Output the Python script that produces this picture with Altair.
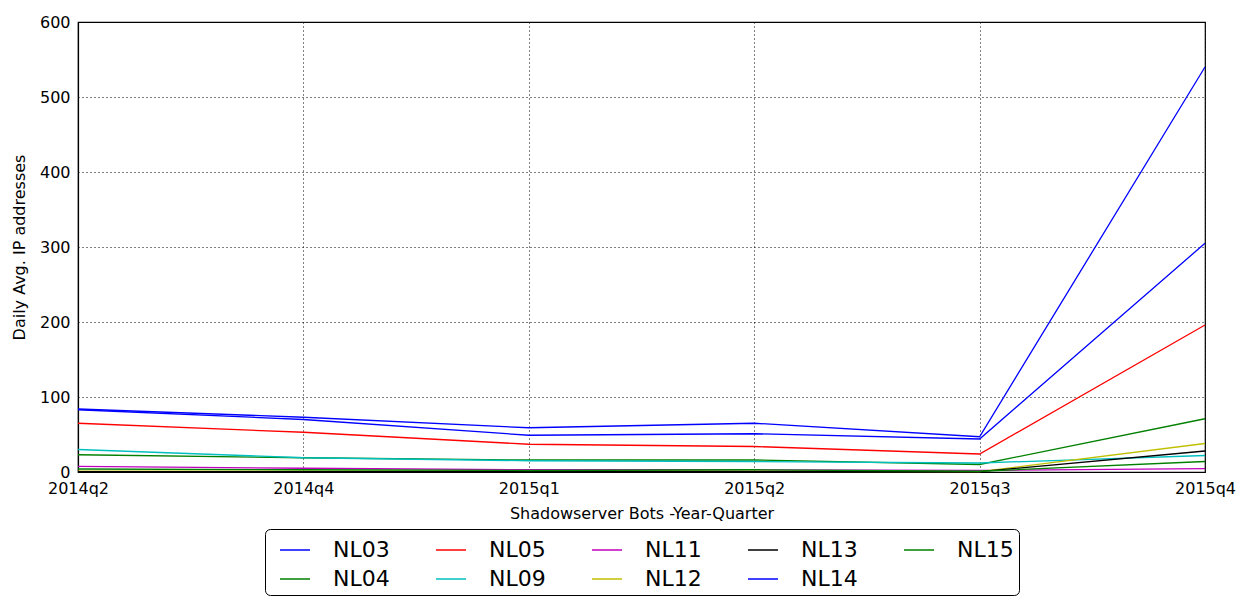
import altair as alt
import pandas as pd

quarters = ["2014q2", "2014q4", "2015q1", "2015q2", "2015q3", "2015q4"]

series_names = ["NL03", "NL04", "NL05", "NL09", "NL11", "NL12", "NL13", "NL14", "NL15"]
series_colors = ["#0000ff", "#008000", "#ff0000", "#00bfbf", "#bf00bf",
                 "#bfbf00", "#000000", "#0000ff", "#008000"]
NL03 = [84, 73, 59, 65, 47, 540]
NL04 = [23, 19, 16, 16, 10, 71]
NL05 = [65, 53, 37, 34, 24, 196]
NL09 = [30, 19, 15, 14, 12, 22]
NL11 = [7.5, 5, 3, 3, 2, 4.5]
NL12 = [1, 1, 1, 1, 0.5, 38]
NL13 = [0.5, 0.5, 0.5, 0.5, 0.5, 28]
NL14 = [83, 70, 49, 51, 44, 305]
NL15 = [4, 3, 2, 3, 1, 14]
values = [NL03, NL04, NL05, NL09, NL11, NL12, NL13, NL14, NL15]

rows = []
for name, vals in zip(series_names, values):
    for q, v in zip(quarters, vals):
        rows.append({"quarter": q, "series": name, "value": v})
df = pd.DataFrame(rows)

FONT = "DejaVu Sans"

chart = alt.Chart(df).mark_line(strokeWidth=1.3).encode(
    x=alt.X("quarter:O", sort=quarters,
            scale=alt.Scale(type="point", padding=0),
            axis=alt.Axis(title="Shadowserver Bots -Year-Quarter", labelAngle=0,
                          labelFlush=False, labelOverlap=False, ticks=False,
                          labelPadding=8, titlePadding=9)),
    y=alt.Y("value:Q", scale=alt.Scale(domain=[0, 600], nice=False),
            axis=alt.Axis(title="Daily Avg. IP addresses", values=[0, 100, 200, 300, 400, 500, 600],
                          ticks=False, labelPadding=8, titlePadding=12)),
    color=alt.Color("series:N",
                    scale=alt.Scale(domain=series_names, range=series_colors),
                    legend=alt.Legend(title=None, orient="none", legendX=187, legendY=507,
                                      columns=5, symbolType="stroke", symbolSize=900,
                                      symbolOffset=9,
                                      symbolStrokeWidth=1.5, labelFontSize=22, labelFont=FONT,
                                      labelColor="black",
                                      labelOffset=22, columnPadding=36, rowPadding=2,
                                      padding=5, strokeColor="black", cornerRadius=5,
                                      fillColor="white")),
    detail="series:N",
).properties(
    width=1127, height=450,
    autosize=alt.AutoSizeParams(type="none"),
    padding={"left": 70, "top": 14, "right": 39, "bottom": 125},
).configure_view(
    stroke="black", strokeWidth=1.2
).configure_axis(
    labelFont=FONT, titleFont=FONT, labelFontSize=16, titleFontSize=16,
    titleFontWeight="normal", labelColor="black", titleColor="black",
    domainColor="black", domainWidth=1.2,
    grid=True, gridColor="black", gridDash=[1, 3], gridWidth=1, gridOpacity=1,
)

chart.save("out.html", embed_options={"renderer": "svg", "actions": False})
